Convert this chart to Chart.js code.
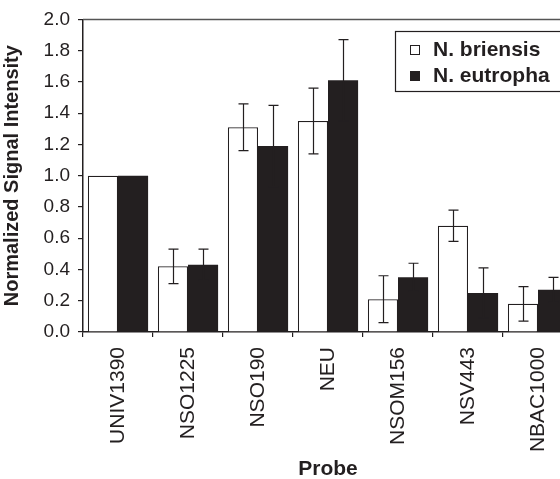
<!DOCTYPE html>
<html lang="en">
<head>
    <meta charset="UTF-8">
    <title>Normalized Signal Intensity by Probe</title>
    <script src="https://cdn.jsdelivr.net/npm/chart.js@4.4.0/dist/chart.umd.min.js"></script>
    <style>
        * { margin: 0; padding: 0; box-sizing: border-box; }
        html, body { width: 560px; height: 479px; overflow: hidden; background: #fff; }
        .wrap { width: 600px; height: 482px; position: relative; }
    </style>
</head>
<body>
    <div class="wrap">
        <canvas id="probeChart" width="600" height="482"></canvas>
    </div>

    <script>
        const probes = ['UNIV1390', 'NSO1225', 'NSO190', 'NEU', 'NSOM156', 'NSV443', 'NBAC1000'];
        const briensis = [1.0, 0.42, 1.31, 1.35, 0.21, 0.68, 0.18];
        const briensisErr = [0, 0.11, 0.15, 0.21, 0.15, 0.10, 0.11];
        const eutropha = [1.0, 0.43, 1.19, 1.61, 0.35, 0.25, 0.27];
        const eutrophaErr = [0, 0.10, 0.26, 0.26, 0.09, 0.16, 0.08];
        const yTicks = [0, 0.2, 0.4, 0.6, 0.8, 1.0, 1.2, 1.4, 1.6, 1.8, 2.0];

        const FONT = "'Liberation Sans', Arial, sans-serif";
        const INK = '#231f20';

        // error bars drawn on top of each bar
        const errorBars = {
            id: 'errorBars',
            afterDatasetsDraw(chart) {
                const ctx = chart.ctx;
                const y = chart.scales.y;
                ctx.save();
                ctx.strokeStyle = INK;
                ctx.lineWidth = 1.2;
                chart.data.datasets.forEach((ds, i) => {
                    const meta = chart.getDatasetMeta(i);
                    meta.data.forEach((bar, j) => {
                        const e = ds.errors[j];
                        if (!e) return;
                        const top = y.getPixelForValue(ds.data[j] + e);
                        const bot = y.getPixelForValue(ds.data[j] - e);
                        const x = Math.round(bar.x) + 0.5;
                        ctx.beginPath();
                        ctx.moveTo(x, top);
                        ctx.lineTo(x, bot);
                        ctx.moveTo(x - 5, top);
                        ctx.lineTo(x + 5, top);
                        ctx.moveTo(x - 5, bot);
                        ctx.lineTo(x + 5, bot);
                        ctx.stroke();
                    });
                });
                ctx.restore();
            }
        };

        // top frame line and boxed legend
        const frameLegend = {
            id: 'frameLegend',
            afterDraw(chart) {
                const ctx = chart.ctx;
                const area = chart.chartArea;
                ctx.save();
                ctx.strokeStyle = '#555';
                ctx.lineWidth = 1.5;
                ctx.beginPath();
                ctx.moveTo(area.left, area.top);
                ctx.lineTo(area.right + 20, area.top);
                ctx.stroke();

                ctx.strokeStyle = INK;
                ctx.lineWidth = 1.2;
                ctx.fillStyle = '#fff';
                ctx.fillRect(395, 31, 190, 60);
                ctx.strokeRect(395.5, 31.5, 190, 60);

                ctx.font = 'bold 21px ' + FONT;
                ctx.textBaseline = 'middle';
                const rows = [50, 76];
                chart.data.datasets.forEach((ds, i) => {
                    const cy = rows[i];
                    ctx.fillStyle = ds.backgroundColor;
                    ctx.fillRect(410.5, cy - 4.5, 9, 9);
                    ctx.strokeStyle = INK;
                    ctx.lineWidth = 1;
                    ctx.strokeRect(410.5, cy - 4.5, 9, 9);
                    ctx.fillStyle = INK;
                    ctx.fillText(ds.label, 433, cy);
                });
                ctx.restore();
            }
        };

        const ctx = document.getElementById('probeChart').getContext('2d');
        new Chart(ctx, {
            type: 'bar',
            data: {
                labels: probes,
                datasets: [{
                    label: 'N. briensis',
                    data: briensis,
                    errors: briensisErr,
                    backgroundColor: '#ffffff',
                    borderColor: INK,
                    borderWidth: 1.2
                }, {
                    label: 'N. eutropha',
                    data: eutropha,
                    errors: eutrophaErr,
                    backgroundColor: INK,
                    borderColor: INK,
                    borderWidth: 0
                }]
            },
            options: {
                responsive: false,
                animation: false,
                devicePixelRatio: 1,
                categoryPercentage: 0.86,
                barPercentage: 1.0,
                layout: { padding: { top: 19, right: 27, left: 0, bottom: 0 } },
                plugins: {
                    legend: { display: false },
                    tooltip: { enabled: false }
                },
                scales: {
                    x: {
                        afterFit(scale) { scale.height = 150; },
                        border: { display: true, color: INK, width: 1.5 },
                        grid: {
                            offset: true,
                            drawOnChartArea: false,
                            drawTicks: true,
                            tickLength: 5,
                            color: INK,
                            lineWidth: 1.2
                        },
                        ticks: {
                            color: INK,
                            font: { family: FONT, size: 21 },
                            minRotation: 90,
                            maxRotation: 90,
                            padding: 10,
                            autoSkip: false
                        },
                        title: {
                            display: true,
                            text: 'Probe',
                            color: INK,
                            font: { family: FONT, size: 21, weight: 'bold' },
                            padding: { top: 0, bottom: 0 }
                        }
                    },
                    y: {
                        min: 0,
                        max: 2,
                        afterFit(scale) { scale.width = 83; },
                        afterBuildTicks(scale) {
                            scale.ticks = yTicks.map(v => ({ value: v }));
                        },
                        border: { display: true, color: INK, width: 1.5 },
                        grid: {
                            drawOnChartArea: false,
                            drawTicks: true,
                            tickLength: 5,
                            color: INK,
                            lineWidth: 1.2
                        },
                        ticks: {
                            color: INK,
                            font: { family: FONT, size: 19 },
                            padding: 8,
                            callback: v => v.toFixed(1)
                        },
                        title: {
                            display: true,
                            text: 'Normalized Signal Intensity',
                            color: INK,
                            font: { family: FONT, size: 20, weight: 'bold' },
                            padding: { top: 0, bottom: 0 }
                        }
                    }
                }
            },
            plugins: [errorBars, frameLegend]
        });
    </script>
</body>
</html>
